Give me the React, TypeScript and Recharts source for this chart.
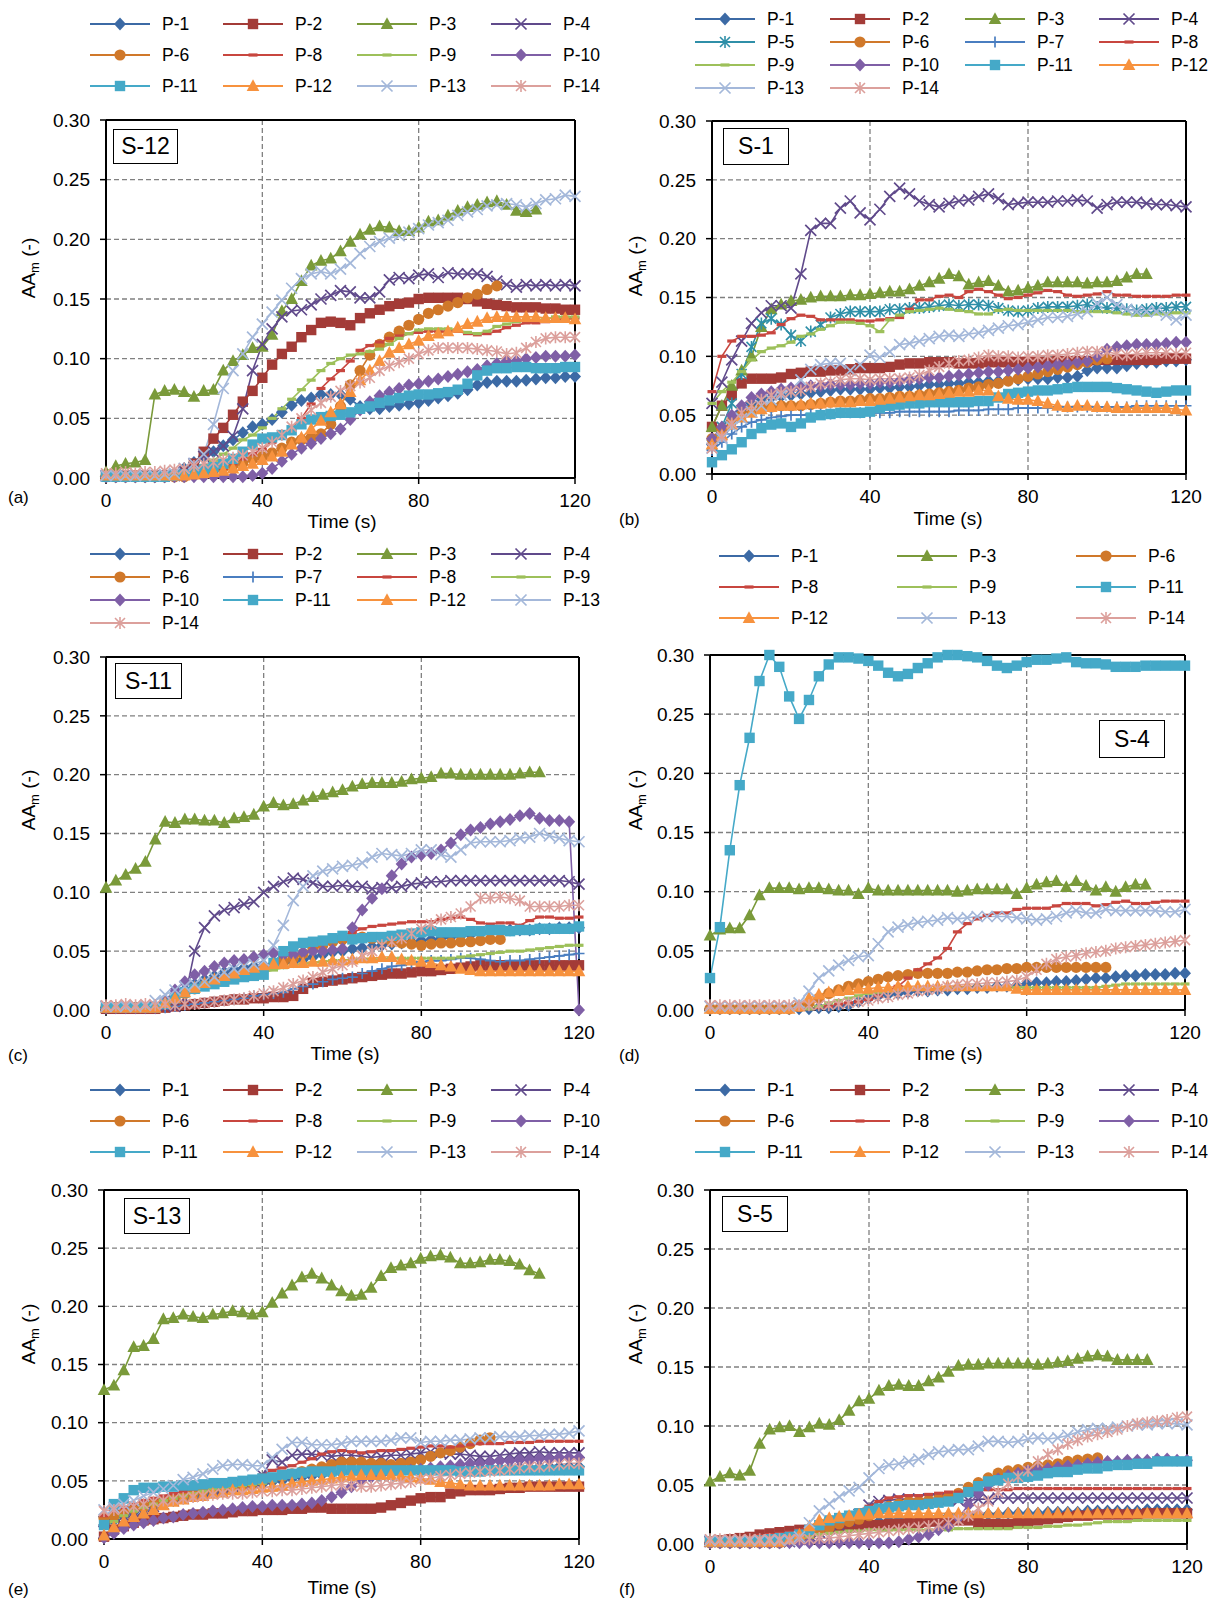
import React from 'react';
import { LineChart, Line, XAxis, YAxis, CartesianGrid, ReferenceLine } from 'recharts';

const FONT = '"Liberation Sans", Arial, Helvetica, sans-serif';

const TIME = [0, 2.5, 5, 7.5, 10, 12.5, 15, 17.5, 20, 22.5, 25, 27.5, 30, 32.5, 35, 37.5, 40, 42.5, 45, 47.5, 50, 52.5, 55, 57.5, 60, 62.5, 65, 67.5, 70, 72.5, 75, 77.5, 80, 82.5, 85, 87.5, 90, 92.5, 95, 97.5, 100, 102.5, 105, 107.5, 110, 112.5, 115, 117.5, 120];
const X_TICKS = [0, 40, 80, 120];
const Y_TICKS = [0, 0.05, 0.1, 0.15, 0.2, 0.25, 0.3];

const SERIES_STYLE: Record<string, { color: string; shape: string }> = {
  'P-1': { color: '#3C6AA5', shape: 'diamond' },
  'P-2': { color: '#A33B37', shape: 'square' },
  'P-3': { color: '#7A9A3A', shape: 'triangle' },
  'P-4': { color: '#604A8B', shape: 'x' },
  'P-5': { color: '#2F8FA8', shape: 'star' },
  'P-6': { color: '#D0782A', shape: 'circle' },
  'P-7': { color: '#4A7EC0', shape: 'plus' },
  'P-8': { color: '#C8463F', shape: 'dash' },
  'P-9': { color: '#9DC05A', shape: 'dash' },
  'P-10': { color: '#7F5FA6', shape: 'diamond' },
  'P-11': { color: '#45A9C8', shape: 'square' },
  'P-12': { color: '#F7923E', shape: 'triangle' },
  'P-13': { color: '#A4B8DA', shape: 'x' },
  'P-14': { color: '#DCA09C', shape: 'star' },
};

// AAm values x1000, one per TIME step (shorter arrays = series ends earlier)
// S-12
const S12_P1 = [1, 1, 1, 1, 1, 1, 1, 3, 8, 13, 18, 22, 27, 32, 38, 43, 45, 49, 55, 61, 65, 67, 70, 70, 70, 66, 60, 58, 58, 60, 61, 62, 63, 65, 67, 69, 71, 74, 78, 80, 81, 81, 81, 82, 83, 84, 84, 85, 85];
const S12_P2 = [2, 2, 2, 2, 2, 2, 2, 2, 5, 12, 22, 33, 42, 53, 64, 73, 84, 95, 104, 110, 118, 124, 130, 131, 130, 128, 134, 138, 141, 144, 146, 147, 150, 151, 151, 151, 151, 150, 148, 146, 145, 144, 143, 143, 143, 142, 142, 141, 141];
const S12_P3 = [5, 10, 12, 13, 15, 70, 73, 74, 72, 68, 73, 74, 90, 98, 103, 109, 110, 120, 140, 150, 165, 178, 182, 184, 190, 198, 204, 208, 211, 210, 207, 207, 210, 215, 216, 220, 224, 227, 229, 231, 232, 229, 224, 223, 225];
const S12_P4 = [2, 2, 2, 2, 2, 2, 2, 2, 5, 12, 18, 22, 27, 35, 58, 90, 112, 125, 135, 140, 141, 145, 150, 153, 157, 156, 151, 151, 156, 166, 168, 167, 170, 171, 168, 172, 171, 171, 171, 169, 165, 162, 160, 162, 161, 162, 161, 162, 161];
const S12_P6 = [1, 1, 1, 1, 1, 1, 1, 1, 1, 3, 5, 7, 9, 11, 13, 16, 18, 21, 25, 30, 32, 34, 37, 45, 60, 78, 90, 103, 112, 118, 123, 128, 133, 138, 141, 144, 147, 151, 154, 158, 161];
const S12_P8 = [2, 2, 2, 2, 2, 2, 2, 2, 2, 2, 2, 5, 8, 12, 16, 20, 24, 30, 36, 42, 50, 62, 75, 83, 90, 98, 107, 111, 114, 117, 119, 121, 122, 123, 123, 123, 123, 121, 120, 121, 123, 126, 128, 130, 130, 131, 132, 133, 134];
const S12_P9 = [2, 2, 2, 2, 2, 2, 2, 2, 2, 5, 10, 15, 20, 25, 32, 36, 42, 50, 58, 66, 74, 82, 90, 96, 100, 103, 104, 106, 108, 112, 117, 121, 124, 125, 125, 125, 124, 122, 121, 123, 127, 129, 131, 132, 132, 133, 135, 135, 135];
const S12_P10 = [1, 1, 1, 1, 1, 1, 1, 1, 1, 1, 1, 1, 1, 1, 1, 2, 4, 8, 14, 20, 25, 29, 33, 37, 41, 49, 57, 64, 69, 72, 75, 78, 79, 81, 83, 85, 87, 89, 91, 94, 96, 98, 98, 100, 101, 102, 102, 102, 103];
const S12_P11 = [1, 1, 1, 1, 1, 1, 1, 2, 3, 5, 7, 9, 12, 16, 22, 28, 33, 34, 36, 40, 45, 49, 51, 52, 53, 55, 58, 60, 63, 65, 67, 69, 70, 70, 71, 72, 74, 79, 86, 90, 92, 92, 93, 93, 92, 92, 92, 93, 93];
const S12_P12 = [2, 2, 2, 2, 2, 2, 2, 2, 2, 3, 4, 5, 6, 8, 10, 12, 15, 18, 22, 28, 34, 41, 48, 55, 62, 72, 82, 90, 98, 105, 109, 112, 115, 119, 121, 123, 126, 129, 131, 134, 135, 135, 135, 135, 135, 134, 134, 134, 133];
const S12_P13 = [2, 2, 2, 2, 2, 2, 3, 4, 8, 12, 20, 45, 75, 90, 104, 118, 129, 139, 149, 159, 167, 171, 173, 171, 175, 180, 188, 194, 198, 201, 203, 206, 209, 212, 214, 216, 220, 223, 225, 228, 229, 230, 229, 227, 230, 233, 234, 237, 236];
const S12_P14 = [4, 4, 5, 4, 5, 5, 6, 7, 8, 10, 12, 13, 15, 17, 19, 22, 25, 30, 36, 43, 50, 57, 63, 68, 73, 77, 80, 84, 90, 94, 97, 100, 104, 107, 109, 109, 109, 109, 108, 107, 106, 104, 105, 109, 114, 117, 118, 118, 118];

// S-1
const S1_P1 = [25, 35, 45, 53, 60, 63, 65, 66, 67, 68, 69, 70, 71, 72, 72, 72, 72, 73, 73, 74, 74, 75, 76, 76, 77, 77, 78, 78, 79, 79, 80, 80, 81, 81, 81, 82, 82, 83, 88, 90, 90, 90, 92, 94, 95, 95, 96, 96, 97];
const S1_P2 = [40, 58, 67, 77, 81, 81, 81, 82, 85, 86, 87, 87, 88, 88, 89, 90, 90, 90, 91, 93, 94, 94, 95, 95, 95, 94, 94, 94, 95, 95, 95, 95, 95, 95, 95, 96, 96, 96, 96, 97, 97, 97, 97, 97, 97, 97, 98, 98, 98];
const S1_P3 = [40, 58, 75, 88, 100, 125, 140, 144, 147, 148, 150, 151, 151, 151, 152, 152, 153, 154, 155, 155, 157, 160, 163, 166, 170, 168, 161, 163, 164, 160, 155, 156, 158, 160, 163, 163, 163, 163, 162, 163, 163, 164, 167, 170, 170];
const S1_P4 = [60, 78, 97, 113, 128, 137, 143, 143, 141, 170, 207, 213, 213, 226, 232, 222, 216, 225, 236, 243, 238, 232, 229, 227, 230, 232, 233, 236, 238, 234, 229, 230, 231, 231, 231, 232, 232, 233, 232, 226, 229, 231, 231, 231, 230, 229, 229, 228, 227];
const S1_P5 = [25, 40, 60, 85, 108, 128, 132, 127, 118, 113, 121, 127, 133, 136, 138, 138, 138, 138, 140, 140, 141, 141, 142, 143, 144, 143, 144, 144, 143, 141, 139, 138, 139, 141, 142, 142, 142, 143, 144, 142, 141, 141, 140, 139, 140, 141, 141, 142, 142];
const S1_P6 = [30, 38, 45, 50, 54, 56, 57, 58, 58, 58, 59, 60, 61, 62, 62, 63, 64, 64, 65, 66, 66, 67, 68, 69, 70, 71, 73, 74, 76, 77, 79, 81, 83, 85, 87, 89, 91, 93, 95, 97, 98];
const S1_P7 = [20, 27, 34, 40, 44, 46, 48, 49, 50, 50, 51, 51, 51, 52, 52, 52, 52, 52, 52, 53, 53, 53, 53, 53, 53, 54, 54, 54, 55, 55, 55, 56, 56, 56, 56, 57, 57, 57, 57, 57, 57, 57, 57, 58, 58, 58, 58, 58, 58];
const S1_P8 = [70, 100, 113, 117, 117, 118, 120, 127, 132, 135, 134, 131, 131, 131, 131, 130, 130, 131, 132, 133, 140, 148, 148, 151, 152, 150, 155, 157, 155, 152, 149, 150, 152, 154, 156, 155, 152, 151, 152, 153, 155, 152, 152, 151, 151, 151, 151, 152, 152];
const S1_P9 = [60, 70, 78, 87, 97, 104, 107, 109, 112, 117, 119, 123, 126, 129, 129, 128, 126, 121, 131, 135, 138, 139, 140, 141, 140, 139, 138, 136, 136, 139, 140, 139, 139, 139, 139, 139, 139, 138, 138, 138, 138, 137, 136, 135, 135, 136, 136, 137, 137];
const S1_P10 = [30, 40, 50, 58, 65, 68, 70, 72, 73, 74, 75, 75, 76, 76, 76, 77, 77, 78, 78, 79, 80, 81, 82, 82, 83, 84, 85, 86, 87, 87, 88, 89, 90, 91, 92, 93, 94, 95, 96, 100, 106, 108, 109, 110, 110, 110, 111, 112, 112];
const S1_P11 = [10, 16, 21, 27, 34, 39, 42, 43, 40, 43, 48, 50, 51, 52, 52, 52, 53, 56, 58, 59, 60, 60, 61, 61, 61, 61, 61, 62, 62, 65, 68, 69, 70, 71, 71, 72, 73, 74, 74, 74, 74, 73, 72, 71, 70, 69, 70, 71, 71];
const S1_P12 = [25, 33, 42, 48, 52, 55, 57, 58, 58, 59, 60, 60, 61, 61, 61, 62, 62, 63, 64, 65, 66, 67, 67, 68, 69, 70, 70, 71, 71, 66, 64, 63, 63, 62, 60, 58, 57, 58, 58, 57, 57, 56, 56, 56, 56, 56, 56, 55, 54];
const S1_P13 = [22, 30, 40, 47, 53, 58, 63, 67, 70, 80, 89, 93, 94, 94, 88, 93, 101, 99, 104, 110, 111, 113, 115, 117, 118, 117, 119, 120, 122, 124, 126, 127, 129, 131, 133, 133, 134, 136, 138, 145, 150, 144, 140, 138, 138, 138, 135, 131, 135];
const S1_P14 = [22, 32, 43, 52, 58, 63, 67, 69, 70, 71, 74, 77, 78, 80, 81, 81, 80, 81, 81, 81, 82, 84, 88, 91, 94, 96, 97, 99, 101, 100, 100, 99, 100, 100, 101, 101, 102, 103, 104, 104, 104, 102, 101, 102, 103, 103, 103, 102, 103];

// S-11
const S11_P1 = [2, 2, 2, 2, 2, 2, 6, 12, 17, 22, 26, 29, 32, 34, 36, 37, 38, 39, 40, 41, 43, 45, 47, 49, 50, 52, 53, 54, 55, 56, 57, 58, 59, 60, 61, 62, 63, 64, 65, 66, 67, 68, 68, 68, 69, 69, 70, 70, 70];
const S11_P2 = [1, 1, 1, 1, 1, 1, 2, 3, 4, 5, 6, 7, 8, 9, 9, 10, 10, 11, 11, 12, 18, 23, 24, 25, 26, 27, 28, 29, 30, 31, 31, 32, 33, 33, 34, 35, 36, 37, 38, 38, 38, 38, 38, 38, 38, 38, 38, 38, 38];
const S11_P3 = [104, 110, 115, 120, 126, 145, 160, 159, 162, 162, 161, 161, 159, 163, 164, 166, 173, 176, 174, 175, 178, 181, 183, 185, 187, 190, 192, 193, 193, 193, 194, 196, 197, 198, 201, 201, 200, 200, 200, 200, 200, 200, 201, 202, 202];
const S11_P4 = [3, 3, 3, 3, 3, 3, 3, 3, 10, 50, 70, 80, 85, 87, 90, 92, 100, 105, 109, 112, 111, 108, 105, 105, 106, 105, 105, 103, 104, 104, 105, 107, 108, 109, 109, 110, 110, 110, 110, 110, 110, 110, 110, 110, 110, 110, 110, 109, 107];
const S11_P6 = [2, 2, 2, 2, 2, 2, 6, 10, 14, 18, 21, 24, 26, 28, 30, 32, 35, 38, 41, 44, 48, 52, 55, 58, 60, 61, 62, 61, 60, 58, 57, 56, 55, 56, 57, 57, 58, 58, 59, 60, 60];
const S11_P7 = [2, 2, 2, 2, 2, 2, 2, 3, 4, 5, 6, 7, 8, 9, 10, 12, 13, 14, 15, 18, 20, 22, 24, 26, 27, 28, 31, 33, 35, 37, 38, 40, 41, 42, 42, 43, 44, 44, 43, 42, 41, 42, 42, 43, 44, 45, 46, 47, 48];
const S11_P8 = [2, 2, 2, 2, 2, 4, 8, 12, 16, 20, 23, 26, 28, 31, 33, 35, 37, 41, 46, 51, 55, 58, 60, 62, 64, 66, 69, 71, 72, 73, 74, 75, 75, 75, 77, 78, 79, 77, 74, 73, 74, 74, 72, 76, 79, 79, 78, 78, 79];
const S11_P9 = [2, 2, 2, 2, 2, 2, 5, 9, 13, 16, 19, 22, 24, 26, 28, 30, 32, 34, 36, 38, 39, 40, 41, 42, 42, 43, 43, 43, 43, 44, 44, 44, 44, 44, 44, 44, 45, 46, 47, 48, 49, 50, 50, 51, 52, 53, 54, 55, 55];
const S11_P10 = [2, 2, 2, 2, 2, 2, 8, 17, 24, 30, 33, 37, 40, 42, 43, 45, 47, 48, 47, 47, 49, 50, 50, 51, 52, 70, 85, 95, 103, 114, 124, 130, 132, 133, 136, 142, 149, 153, 155, 158, 160, 162, 165, 167, 163, 161, 161, 160, 0];
const S11_P11 = [2, 2, 2, 2, 2, 2, 5, 10, 15, 18, 20, 22, 24, 26, 28, 29, 30, 40, 50, 54, 57, 58, 59, 61, 63, 60, 61, 62, 62, 63, 64, 65, 66, 67, 66, 66, 66, 67, 67, 68, 68, 67, 68, 68, 69, 69, 69, 69, 71];
const S11_P12 = [2, 2, 2, 2, 2, 2, 6, 10, 15, 19, 23, 26, 29, 31, 34, 36, 38, 39, 39, 40, 40, 41, 41, 42, 42, 43, 44, 44, 45, 45, 43, 42, 41, 40, 38, 37, 35, 34, 33, 33, 33, 33, 33, 33, 33, 33, 33, 33, 33];
const S11_P13 = [3, 3, 3, 3, 4, 8, 13, 17, 20, 22, 24, 28, 32, 35, 37, 39, 42, 55, 72, 93, 105, 114, 118, 120, 122, 123, 125, 130, 133, 132, 131, 133, 136, 136, 132, 130, 136, 142, 143, 143, 143, 144, 146, 147, 150, 148, 146, 144, 143];
const S11_P14 = [4, 4, 5, 4, 5, 4, 5, 4, 5, 5, 6, 7, 8, 9, 10, 12, 14, 16, 19, 22, 25, 28, 32, 35, 38, 41, 46, 50, 55, 58, 61, 65, 69, 73, 77, 79, 82, 88, 95, 95, 96, 95, 93, 88, 88, 88, 88, 89, 89];

// S-4
const S4_P1 = [1, 1, 1, 1, 1, 1, 1, 1, 1, 1, 1, 2, 2, 3, 4, 7, 10, 12, 13, 14, 15, 16, 16, 17, 17, 18, 18, 19, 19, 20, 20, 21, 22, 23, 23, 24, 24, 25, 26, 27, 27, 28, 29, 29, 30, 30, 30, 31, 31];
const S4_P3 = [63, 68, 69, 69, 80, 97, 103, 103, 103, 102, 103, 103, 102, 101, 101, 98, 103, 101, 101, 101, 101, 101, 101, 101, 101, 100, 101, 102, 102, 102, 102, 98, 103, 106, 108, 109, 104, 109, 105, 101, 104, 100, 104, 106, 106];
const S4_P6 = [1, 1, 1, 1, 1, 1, 1, 1, 1, 3, 6, 10, 14, 17, 20, 22, 24, 26, 28, 29, 30, 31, 31, 31, 31, 32, 32, 33, 34, 34, 35, 35, 36, 36, 36, 36, 36, 36, 36, 36, 36];
const S4_P8 = [1, 1, 1, 1, 1, 1, 1, 1, 1, 1, 1, 2, 3, 5, 6, 7, 9, 12, 16, 20, 27, 34, 39, 44, 52, 66, 73, 77, 80, 82, 82, 85, 86, 86, 86, 88, 90, 90, 90, 88, 89, 91, 92, 90, 90, 91, 92, 92, 92];
const S4_P9 = [1, 1, 1, 1, 1, 1, 1, 1, 1, 1, 1, 3, 6, 8, 10, 12, 14, 15, 16, 17, 18, 18, 18, 18, 18, 18, 18, 18, 19, 19, 19, 19, 19, 19, 19, 19, 19, 19, 19, 19, 20, 21, 22, 22, 22, 22, 22, 22, 22];
const S4_P11 = [27, 70, 135, 190, 230, 278, 300, 290, 265, 246, 262, 282, 292, 298, 298, 297, 295, 291, 285, 282, 284, 289, 293, 298, 300, 300, 299, 298, 295, 291, 289, 291, 294, 296, 296, 297, 298, 294, 293, 293, 292, 290, 290, 290, 291, 291, 291, 291, 291];
const S4_P12 = [1, 1, 1, 1, 1, 1, 1, 1, 1, 3, 10, 13, 15, 16, 17, 18, 18, 19, 19, 20, 20, 20, 20, 20, 20, 20, 20, 20, 20, 20, 20, 18, 17, 17, 17, 17, 17, 17, 17, 17, 17, 17, 17, 17, 17, 17, 17, 17, 17];
const S4_P13 = [3, 3, 3, 3, 3, 3, 3, 3, 3, 6, 16, 27, 33, 38, 42, 45, 46, 56, 66, 70, 72, 74, 75, 76, 78, 77, 78, 79, 79, 79, 79, 78, 77, 76, 77, 79, 82, 84, 82, 82, 85, 84, 84, 84, 84, 84, 83, 83, 85];
const S4_P14 = [4, 4, 4, 4, 4, 4, 4, 4, 4, 4, 4, 4, 4, 5, 6, 7, 8, 10, 11, 13, 14, 16, 17, 18, 20, 21, 22, 22, 23, 23, 24, 25, 28, 34, 39, 43, 45, 46, 48, 49, 50, 52, 53, 54, 55, 56, 57, 58, 59];

// S-13
const S13_P1 = [12, 16, 20, 23, 26, 29, 31, 33, 35, 37, 38, 40, 41, 43, 44, 45, 47, 49, 50, 52, 53, 54, 55, 56, 57, 58, 58, 58, 59, 59, 59, 59, 60, 60, 60, 60, 60, 61, 61, 61, 61, 61, 61, 61, 62, 62, 62, 62, 62];
const S13_P2 = [2, 8, 11, 14, 16, 17, 18, 19, 20, 21, 21, 22, 22, 23, 24, 24, 25, 25, 25, 26, 26, 27, 27, 26, 26, 26, 26, 26, 27, 29, 31, 33, 35, 36, 36, 39, 41, 42, 42, 42, 43, 44, 44, 45, 45, 45, 45, 45, 45];
const S13_P3 = [128, 132, 145, 165, 166, 172, 189, 190, 193, 191, 190, 193, 194, 196, 195, 193, 195, 203, 211, 218, 225, 228, 224, 218, 213, 209, 210, 216, 226, 233, 235, 237, 241, 243, 244, 242, 237, 237, 238, 240, 240, 239, 236, 231, 228];
const S13_P4 = [15, 18, 20, 23, 25, 28, 30, 33, 35, 37, 39, 41, 43, 45, 47, 49, 55, 68, 66, 72, 73, 73, 72, 71, 72, 72, 71, 70, 71, 72, 72, 73, 74, 75, 74, 73, 73, 72, 71, 71, 72, 73, 74, 74, 75, 74, 74, 74, 74];
const S13_P6 = [18, 20, 23, 26, 28, 31, 33, 35, 37, 39, 41, 43, 44, 46, 47, 48, 50, 52, 54, 56, 58, 60, 62, 64, 66, 66, 66, 65, 65, 64, 65, 66, 68, 71, 74, 76, 79, 82, 85, 87];
const S13_P8 = [20, 24, 27, 30, 33, 35, 37, 39, 41, 43, 45, 47, 48, 50, 51, 53, 55, 59, 61, 63, 66, 69, 73, 75, 76, 75, 74, 75, 76, 76, 77, 78, 79, 80, 80, 79, 80, 81, 82, 82, 82, 83, 83, 83, 84, 84, 84, 84, 84];
const S13_P9 = [10, 15, 20, 24, 27, 30, 33, 35, 37, 39, 41, 43, 44, 45, 46, 47, 48, 50, 52, 53, 55, 56, 57, 58, 59, 59, 59, 59, 59, 59, 60, 60, 60, 60, 60, 60, 60, 60, 60, 61, 61, 61, 61, 61, 61, 61, 61, 61, 61];
const S13_P10 = [1, 5, 9, 12, 14, 16, 18, 19, 21, 22, 23, 24, 25, 26, 27, 28, 28, 29, 29, 29, 30, 31, 33, 36, 40, 45, 50, 53, 55, 56, 58, 59, 60, 61, 62, 63, 64, 65, 65, 66, 67, 67, 68, 68, 69, 69, 70, 70, 70];
const S13_P11 = [12, 30, 35, 42, 44, 44, 45, 45, 46, 46, 47, 48, 48, 49, 50, 51, 52, 53, 55, 56, 57, 58, 58, 58, 59, 59, 59, 59, 59, 59, 59, 59, 59, 59, 59, 59, 58, 58, 58, 59, 59, 59, 59, 59, 59, 59, 59, 59, 59];
const S13_P12 = [3, 10, 15, 19, 22, 25, 29, 32, 34, 36, 37, 39, 40, 42, 42, 43, 44, 45, 46, 48, 49, 50, 51, 52, 53, 54, 55, 55, 55, 55, 54, 53, 52, 51, 49, 48, 47, 46, 46, 46, 46, 46, 46, 46, 46, 46, 47, 47, 47];
const S13_P13 = [25, 27, 30, 33, 37, 40, 43, 46, 51, 53, 56, 60, 63, 64, 64, 63, 63, 70, 77, 83, 83, 81, 81, 81, 82, 84, 84, 84, 84, 85, 87, 87, 83, 84, 84, 85, 85, 86, 87, 87, 88, 88, 88, 89, 89, 90, 90, 91, 93];
const S13_P14 = [24, 25, 26, 28, 30, 32, 33, 34, 35, 36, 37, 38, 39, 39, 39, 40, 41, 41, 42, 42, 43, 44, 45, 46, 47, 46, 45, 45, 46, 47, 48, 49, 51, 52, 54, 55, 56, 57, 58, 58, 59, 60, 61, 62, 62, 63, 64, 65, 65];

// S-5
const S5_P1 = [1, 1, 1, 1, 1, 1, 1, 1, 2, 4, 7, 10, 12, 14, 16, 17, 18, 19, 20, 21, 22, 22, 23, 23, 24, 24, 24, 25, 25, 25, 26, 26, 26, 26, 27, 27, 27, 27, 28, 28, 28, 28, 28, 28, 29, 29, 29, 29, 29];
const S5_P2 = [2, 3, 4, 5, 6, 8, 9, 10, 11, 12, 12, 13, 13, 14, 14, 15, 16, 16, 17, 17, 18, 18, 19, 19, 20, 20, 20, 18, 17, 17, 17, 18, 19, 20, 21, 22, 23, 24, 24, 25, 25, 25, 25, 25, 26, 26, 26, 26, 26];
const S5_P3 = [53, 57, 60, 58, 62, 85, 97, 99, 100, 95, 99, 102, 101, 105, 113, 121, 123, 130, 134, 135, 134, 134, 138, 141, 146, 151, 152, 152, 153, 153, 153, 153, 153, 152, 153, 154, 155, 157, 159, 160, 159, 156, 156, 156, 156];
const S5_P4 = [2, 2, 2, 2, 2, 2, 2, 2, 2, 4, 7, 10, 13, 16, 20, 25, 33, 36, 37, 38, 38, 38, 38, 38, 38, 37, 37, 38, 38, 39, 39, 39, 39, 39, 39, 39, 39, 39, 39, 39, 39, 39, 39, 39, 39, 39, 39, 39, 39];
const S5_P6 = [1, 1, 1, 1, 1, 1, 1, 1, 2, 4, 8, 11, 14, 17, 19, 21, 24, 28, 32, 34, 36, 36, 37, 38, 40, 43, 48, 52, 56, 60, 62, 63, 65, 66, 67, 68, 70, 71, 72, 73];
const S5_P8 = [2, 3, 4, 5, 6, 7, 8, 9, 10, 12, 14, 17, 20, 23, 26, 29, 32, 36, 39, 40, 41, 41, 42, 43, 44, 44, 45, 45, 46, 46, 46, 47, 47, 47, 47, 47, 47, 47, 47, 47, 47, 47, 47, 47, 47, 47, 47, 47, 47];
const S5_P9 = [1, 1, 1, 1, 1, 1, 1, 1, 2, 4, 6, 8, 9, 10, 11, 11, 12, 12, 12, 12, 12, 12, 12, 12, 12, 13, 13, 13, 13, 13, 13, 14, 14, 14, 15, 15, 16, 16, 17, 18, 19, 19, 19, 20, 20, 20, 20, 20, 20];
const S5_P10 = [1, 1, 1, 1, 1, 1, 1, 1, 1, 1, 1, 1, 1, 1, 1, 1, 1, 1, 1, 2, 4, 6, 8, 12, 15, 22, 33, 43, 50, 55, 58, 60, 62, 63, 64, 65, 66, 67, 68, 69, 70, 70, 71, 71, 71, 72, 72, 71, 71];
const S5_P11 = [2, 2, 2, 2, 2, 3, 4, 5, 6, 8, 12, 16, 20, 22, 24, 26, 28, 30, 31, 32, 33, 33, 34, 35, 36, 39, 44, 49, 53, 54, 56, 56, 57, 58, 60, 61, 61, 63, 64, 64, 66, 67, 67, 68, 68, 70, 70, 70, 70];
const S5_P12 = [2, 2, 2, 2, 2, 2, 2, 2, 4, 8, 15, 20, 22, 23, 24, 25, 25, 26, 26, 26, 26, 26, 26, 26, 26, 26, 26, 26, 26, 26, 26, 26, 26, 26, 26, 26, 26, 26, 26, 26, 26, 26, 26, 26, 26, 26, 26, 26, 26];
const S5_P13 = [3, 3, 3, 3, 3, 3, 3, 3, 3, 6, 18, 28, 34, 40, 45, 48, 56, 64, 67, 68, 70, 72, 76, 78, 79, 80, 80, 83, 87, 87, 86, 87, 89, 90, 89, 90, 92, 95, 97, 98, 98, 99, 100, 101, 101, 102, 102, 102, 101];
const S5_P14 = [4, 4, 4, 4, 4, 4, 4, 4, 4, 4, 4, 5, 5, 6, 7, 8, 9, 10, 11, 12, 13, 14, 15, 16, 18, 20, 24, 30, 36, 44, 51, 57, 62, 70, 76, 80, 85, 88, 91, 93, 95, 97, 100, 102, 103, 104, 105, 107, 108];

type PanelDef = {
  tag: string;
  letter: string;
  box: [number, number, number, number];
  series: [string, number[]][];
  legendCols: number[];
  legendRows: number[];
  tagBox: [number, number, number, number];
  timeAt: [number, number];
  yAt: [number, number];
  letterAt: [number, number];
};

const COLS_L = [90, 223, 357, 491];
const COLS_R = [695, 830, 965, 1099];

const PANELS: PanelDef[] = [
  {
    tag: 'S-12', letter: '(a)', box: [106, 120, 575, 478],
    series: [['P-1', S12_P1], ['P-2', S12_P2], ['P-3', S12_P3], ['P-4', S12_P4], ['P-6', S12_P6], ['P-8', S12_P8], ['P-9', S12_P9], ['P-10', S12_P10], ['P-11', S12_P11], ['P-12', S12_P12], ['P-13', S12_P13], ['P-14', S12_P14]],
    legendCols: COLS_L, legendRows: [24, 55, 86],
    tagBox: [113, 129, 65, 35], timeAt: [342, 522], yAt: [29, 268], letterAt: [8, 498],
  },
  {
    tag: 'S-1', letter: '(b)', box: [712, 121, 1186, 474],
    series: [['P-1', S1_P1], ['P-2', S1_P2], ['P-3', S1_P3], ['P-4', S1_P4], ['P-5', S1_P5], ['P-6', S1_P6], ['P-7', S1_P7], ['P-8', S1_P8], ['P-9', S1_P9], ['P-10', S1_P10], ['P-11', S1_P11], ['P-12', S1_P12], ['P-13', S1_P13], ['P-14', S1_P14]],
    legendCols: COLS_R, legendRows: [19, 42, 65, 88],
    tagBox: [723, 128, 66, 37], timeAt: [948, 519], yAt: [636, 266], letterAt: [619, 520],
  },
  {
    tag: 'S-11', letter: '(c)', box: [106, 657, 579, 1010],
    series: [['P-1', S11_P1], ['P-2', S11_P2], ['P-3', S11_P3], ['P-4', S11_P4], ['P-6', S11_P6], ['P-7', S11_P7], ['P-8', S11_P8], ['P-9', S11_P9], ['P-10', S11_P10], ['P-11', S11_P11], ['P-12', S11_P12], ['P-13', S11_P13], ['P-14', S11_P14]],
    legendCols: COLS_L, legendRows: [554, 577, 600, 623],
    tagBox: [115, 663, 67, 36], timeAt: [345, 1054], yAt: [29, 800], letterAt: [8, 1056],
  },
  {
    tag: 'S-4', letter: '(d)', box: [710, 655, 1185, 1010],
    series: [['P-1', S4_P1], ['P-3', S4_P3], ['P-6', S4_P6], ['P-8', S4_P8], ['P-9', S4_P9], ['P-11', S4_P11], ['P-12', S4_P12], ['P-13', S4_P13], ['P-14', S4_P14]],
    legendCols: [719, 897, 1076], legendRows: [556, 587, 618],
    tagBox: [1099, 720, 66, 38], timeAt: [948, 1054], yAt: [636, 800], letterAt: [619, 1056],
  },
  {
    tag: 'S-13', letter: '(e)', box: [104, 1190, 579, 1539],
    series: [['P-1', S13_P1], ['P-2', S13_P2], ['P-3', S13_P3], ['P-4', S13_P4], ['P-6', S13_P6], ['P-8', S13_P8], ['P-9', S13_P9], ['P-10', S13_P10], ['P-11', S13_P11], ['P-12', S13_P12], ['P-13', S13_P13], ['P-14', S13_P14]],
    legendCols: COLS_L, legendRows: [1090, 1121, 1152],
    tagBox: [124, 1198, 66, 36], timeAt: [342, 1588], yAt: [29, 1334], letterAt: [8, 1590],
  },
  {
    tag: 'S-5', letter: '(f)', box: [710, 1190, 1187, 1544],
    series: [['P-1', S5_P1], ['P-2', S5_P2], ['P-3', S5_P3], ['P-4', S5_P4], ['P-6', S5_P6], ['P-8', S5_P8], ['P-9', S5_P9], ['P-10', S5_P10], ['P-11', S5_P11], ['P-12', S5_P12], ['P-13', S5_P13], ['P-14', S5_P14]],
    legendCols: COLS_R, legendRows: [1090, 1121, 1152],
    tagBox: [722, 1196, 66, 36], timeAt: [951, 1588], yAt: [636, 1334], letterAt: [619, 1590],
  },
];

function Mark({ shape, color, x, y }: { shape: string; color: string; x: number; y: number }) {
  switch (shape) {
    case 'diamond':
      return <polygon points={`${x},${y - 6.5} ${x + 6},${y} ${x},${y + 6.5} ${x - 6},${y}`} fill={color} />;
    case 'square':
      return <rect x={x - 5.2} y={y - 5.2} width={10.4} height={10.4} fill={color} />;
    case 'triangle':
      return <polygon points={`${x},${y - 6.8} ${x + 6.3},${y + 5} ${x - 6.3},${y + 5}`} fill={color} />;
    case 'circle':
      return <circle cx={x} cy={y} r={5.6} fill={color} />;
    case 'x':
      return <path d={`M${x - 5.5},${y - 5.5}L${x + 5.5},${y + 5.5}M${x - 5.5},${y + 5.5}L${x + 5.5},${y - 5.5}`} stroke={color} strokeWidth={1.7} fill="none" />;
    case 'star':
      return <path d={`M${x - 5},${y - 5}L${x + 5},${y + 5}M${x - 5},${y + 5}L${x + 5},${y - 5}M${x},${y - 6}L${x},${y + 6}`} stroke={color} strokeWidth={1.6} fill="none" />;
    case 'plus':
      return <path d={`M${x - 5.5},${y}L${x + 5.5},${y}M${x},${y - 5.5}L${x},${y + 5.5}`} stroke={color} strokeWidth={1.7} fill="none" />;
    default:
      return <rect x={x - 4.5} y={y - 1.6} width={9} height={3.2} fill={color} />;
  }
}

const dotFor = (name: string) => (props: any) => {
  const { cx, cy, index, value } = props;
  const key = `${name}-${index}`;
  if (cx == null || cy == null || value == null) return <g key={key} />;
  const st = SERIES_STYLE[name];
  return (
    <g key={key}>
      <Mark shape={st.shape} color={st.color} x={cx} y={cy} />
    </g>
  );
};

function LegendItem({ name, x, y }: { name: string; x: number; y: number }) {
  const st = SERIES_STYLE[name];
  return (
    <div style={{ position: 'absolute', left: x, top: y - 10, height: 20, display: 'flex', alignItems: 'center', whiteSpace: 'nowrap' }}>
      <svg width={60} height={20}>
        <line x1={0} y1={10} x2={60} y2={10} stroke={st.color} strokeWidth={1.8} />
        <Mark shape={st.shape} color={st.color} x={30} y={10} />
      </svg>
      <span style={{ marginLeft: 12, fontSize: 17.5, lineHeight: '20px' }}>{name}</span>
    </div>
  );
}

const YW = 70;
const MT = 12;
const MR = 32;
const XH = 44;
const TICK = { fontSize: 19, fill: '#000', fontFamily: FONT };

function Panel({ p }: { p: PanelDef }) {
  const [x0, y0, x1, y1] = p.box;
  const pw = x1 - x0;
  const ph = y1 - y0;
  const rows = TIME.map((t, i) => {
    const r: Record<string, number | null> = { t };
    p.series.forEach(([name, vals]) => {
      r[name] = vals[i] == null ? null : vals[i] / 1000;
    });
    return r;
  });
  const ncol = p.legendCols.length;
  const [bx, by, bw, bh] = p.tagBox;

  return (
    <>
      <div style={{ position: 'absolute', left: x0 - YW, top: y0 - MT }}>
        <LineChart width={pw + YW + MR} height={ph + MT + XH} data={rows} margin={{ top: MT, right: MR, bottom: 0, left: 0 }}>
          <CartesianGrid stroke="#808080" strokeDasharray="5 3" strokeWidth={1.3} />
          <XAxis
            type="number"
            dataKey="t"
            domain={[0, 120]}
            ticks={X_TICKS}
            interval={0}
            height={XH}
            tickSize={6}
            tickMargin={10}
            axisLine={{ stroke: '#000', strokeWidth: 2 }}
            tickLine={{ stroke: '#000', strokeWidth: 1.5 }}
            tick={TICK}
          />
          <YAxis
            type="number"
            domain={[0, 0.3]}
            ticks={Y_TICKS}
            interval={0}
            width={YW}
            tickSize={6}
            tickMargin={10}
            tickFormatter={(v: number) => v.toFixed(2)}
            axisLine={{ stroke: '#000', strokeWidth: 2 }}
            tickLine={{ stroke: '#000', strokeWidth: 1.5 }}
            tick={TICK}
          />
          <ReferenceLine y={0.3} stroke="#000" strokeWidth={2} />
          <ReferenceLine x={120} stroke="#000" strokeWidth={2} />
          {p.series.map(([name]) => (
            <Line
              key={name}
              type="linear"
              dataKey={name}
              stroke={SERIES_STYLE[name].color}
              strokeWidth={1.6}
              dot={dotFor(name)}
              activeDot={false}
              connectNulls={false}
              isAnimationActive={false}
            />
          ))}
        </LineChart>
      </div>

      {p.series.map(([name], i) => (
        <LegendItem key={name} name={name} x={p.legendCols[i % ncol]} y={p.legendRows[Math.floor(i / ncol)]} />
      ))}

      <div
        style={{
          position: 'absolute', left: bx, top: by, width: bw, height: bh, boxSizing: 'border-box',
          border: '1.5px solid #000', background: '#fff', fontSize: 23,
          display: 'flex', alignItems: 'center', justifyContent: 'center',
        }}
      >
        {p.tag}
      </div>

      <div style={{ position: 'absolute', left: p.timeAt[0], top: p.timeAt[1], transform: 'translate(-50%, -50%)', fontSize: 19, whiteSpace: 'nowrap' }}>
        Time (s)
      </div>

      <div style={{ position: 'absolute', left: p.yAt[0], top: p.yAt[1], transform: 'translate(-50%, -50%) rotate(-90deg)', fontSize: 19, whiteSpace: 'nowrap' }}>
        AA<span style={{ fontSize: 13, position: 'relative', top: 4 }}>m</span> (-)
      </div>

      <div style={{ position: 'absolute', left: p.letterAt[0], top: p.letterAt[1], transform: 'translateY(-50%)', fontSize: 17, whiteSpace: 'nowrap' }}>
        {p.letter}
      </div>
    </>
  );
}

export default function App() {
  return (
    <div style={{ position: 'absolute', left: 0, top: 0, width: 1228, height: 1603, background: '#fff', fontFamily: FONT, color: '#000', overflow: 'hidden' }}>
      {PANELS.map((p) => (
        <Panel key={p.tag} p={p} />
      ))}
    </div>
  );
}
